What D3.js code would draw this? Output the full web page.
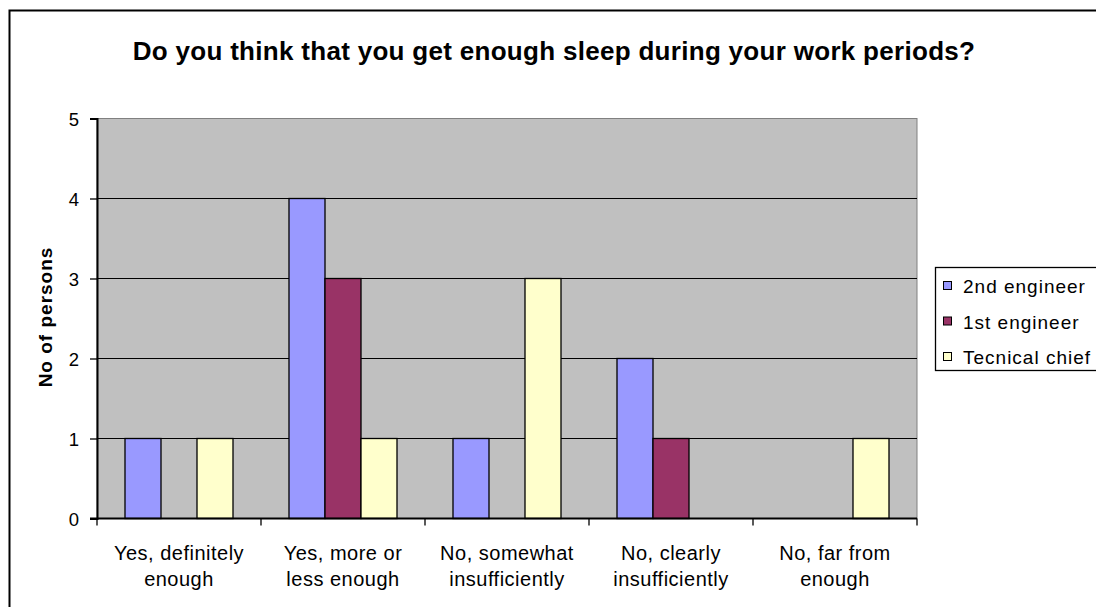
<!DOCTYPE html>
<html>
<head>
<meta charset="utf-8">
<script src="https://cdn.jsdelivr.net/npm/d3@7"></script>
<style>
  html, body { margin: 0; padding: 0; background: #fff; }
  svg { display: block; font-family: Arial, "Liberation Sans", sans-serif; }
</style>
</head>
<body>
<svg id="chart" width="1096" height="607"></svg>
<script>
// Survey answers: how many persons per rank gave each answer
const categories = [
  ["Yes, definitely", "enough"],
  ["Yes, more or", "less enough"],
  ["No, somewhat", "insufficiently"],
  ["No, clearly", "insufficiently"],
  ["No, far from", "enough"]
];
const seriesNames = ["2nd engineer", "1st engineer", "Tecnical chief"];
const secondEngineer = [1, 4, 1, 2, 0];
const firstEngineer  = [0, 3, 0, 1, 0];
const technicalChief = [1, 1, 3, 0, 1];
const yTicks = [0, 1, 2, 3, 4, 5];
const colors = ["#9999ff", "#993366", "#ffffcc"];

const series = [secondEngineer, firstEngineer, technicalChief];
const svg = d3.select("#chart");
const FONT = "Arial, 'Liberation Sans', sans-serif";

// outer chart frame
svg.append("rect")
  .attr("x", 9.5).attr("y", 10.5)
  .attr("width", 1100).attr("height", 610)
  .attr("fill", "#fff").attr("stroke", "#000").attr("stroke-width", 2);

const plot = { left: 97, right: 917, top: 118.5, bottom: 518.5 };

const x0 = d3.scaleBand()
  .domain(d3.range(categories.length))
  .range([plot.left, plot.right])
  .paddingInner(0).paddingOuter(0);

const groupPad = 28; // space each side of a bar group
const x1 = d3.scaleBand()
  .domain(d3.range(seriesNames.length))
  .range([groupPad, x0.bandwidth() - groupPad]);

const y = d3.scaleLinear().domain([0, 5]).range([plot.bottom, plot.top]);

// plot background
svg.append("rect")
  .attr("x", plot.left).attr("y", plot.top)
  .attr("width", plot.right - plot.left).attr("height", plot.bottom - plot.top)
  .attr("fill", "#c0c0c0").attr("stroke", "#808080").attr("stroke-width", 1);

// horizontal gridlines
svg.append("g").selectAll("line")
  .data(yTicks.filter(t => t > 0 && t < 5))
  .join("line")
  .attr("x1", plot.left).attr("x2", plot.right)
  .attr("y1", d => y(d)).attr("y2", d => y(d))
  .attr("stroke", "#000").attr("stroke-width", 1.2);

// bars
const groups = svg.append("g").selectAll("g")
  .data(categories.map((c, i) => i))
  .join("g")
  .attr("transform", i => `translate(${x0(i)},0)`);

groups.selectAll("rect")
  .data(i => series.map((s, k) => ({ k, v: s[i] })).filter(d => d.v > 0))
  .join("rect")
  .attr("x", d => x1(d.k))
  .attr("width", x1.bandwidth())
  .attr("y", d => y(d.v))
  .attr("height", d => y(0) - y(d.v))
  .attr("fill", d => colors[d.k])
  .attr("stroke", "#000").attr("stroke-width", 1.3);

// y axis
const yAxis = svg.append("g")
  .attr("transform", `translate(${plot.left},0)`)
  .call(d3.axisLeft(y).tickValues(yTicks).tickFormat(d3.format("d")).tickSize(7).tickPadding(11));
yAxis.select(".domain").attr("stroke-width", 2);
yAxis.selectAll(".tick line").attr("stroke-width", 1.3);
yAxis.selectAll("text").attr("font-size", 18.5).attr("fill", "#000")
  .attr("font-family", FONT).attr("dy", "0.36em");

// x axis with ticks between categories
const xAxis = svg.append("g")
  .attr("transform", `translate(0,${plot.bottom})`);
xAxis.append("line")
  .attr("x1", plot.left - 7).attr("x2", plot.right)
  .attr("stroke", "#000").attr("stroke-width", 2);
xAxis.selectAll(".sep")
  .data(d3.range(categories.length + 1))
  .join("line")
  .attr("class", "sep")
  .attr("x1", i => plot.left + i * x0.bandwidth())
  .attr("x2", i => plot.left + i * x0.bandwidth())
  .attr("y1", 0).attr("y2", 7)
  .attr("stroke", "#000").attr("stroke-width", 1.3);

const xLabels = xAxis.selectAll(".cat")
  .data(categories)
  .join("text")
  .attr("class", "cat")
  .attr("text-anchor", "middle")
  .attr("font-size", 20)
  .attr("letter-spacing", 0.5)
  .attr("fill", "#000");
xLabels.each(function (d, i) {
  const t = d3.select(this);
  const cx = x0(i) + x0.bandwidth() / 2;
  d.forEach((line, j) => {
    t.append("tspan").attr("x", cx).attr("y", 41 + j * 26.5).text(line);
  });
});

// title
svg.append("text")
  .attr("x", 554).attr("y", 60)
  .attr("text-anchor", "middle")
  .attr("font-size", 26).attr("font-weight", "bold")
  .attr("letter-spacing", 0.3)
  .text("Do you think that you get enough sleep during your work periods?");

// y axis title
svg.append("text")
  .attr("transform", "translate(52,317) rotate(-90)")
  .attr("text-anchor", "middle")
  .attr("font-size", 19).attr("font-weight", "bold")
  .attr("letter-spacing", 1)
  .text("No of persons");

// legend
const legend = svg.append("g").attr("transform", "translate(935,267)");
legend.append("rect")
  .attr("x", 0.5).attr("y", 0.5)
  .attr("width", 200).attr("height", 103)
  .attr("fill", "#fff").attr("stroke", "#000").attr("stroke-width", 1.3);
const items = legend.selectAll(".item")
  .data(seriesNames)
  .join("g")
  .attr("class", "item")
  .attr("transform", (d, i) => `translate(8,${19 + i * 35.5})`);
items.append("rect")
  .attr("x", 0.5).attr("y", -4.5).attr("width", 8).attr("height", 8)
  .attr("fill", (d, i) => colors[i]).attr("stroke", "#000").attr("stroke-width", 1);
items.append("text")
  .attr("x", 20).attr("y", 7)
  .attr("font-size", 19)
  .attr("letter-spacing", 1)
  .text(d => d);
</script>
</body>
</html>
